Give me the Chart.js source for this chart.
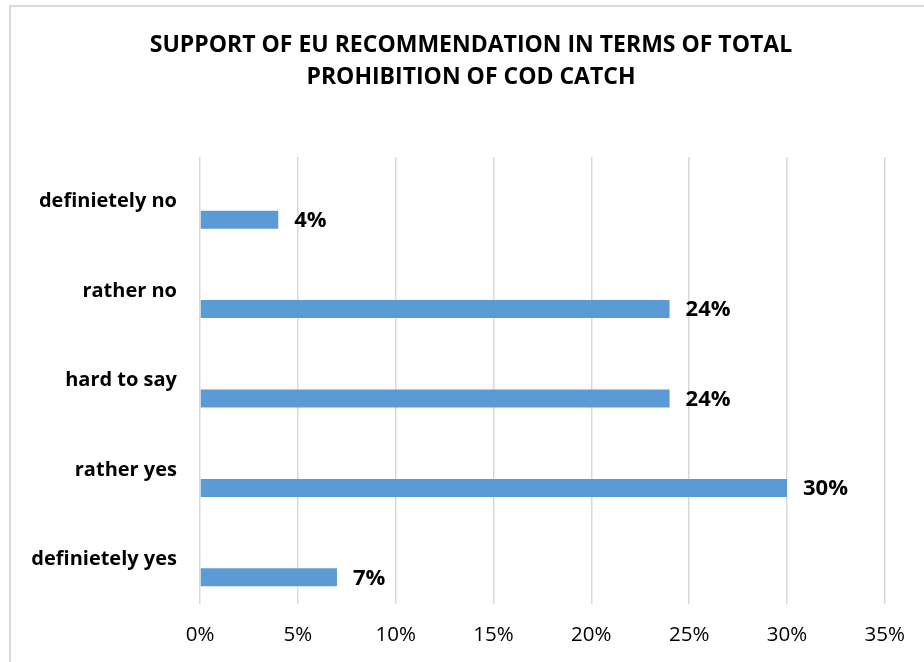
<!DOCTYPE html>
<html lang="en">

<head>
    <meta charset="UTF-8">
    <meta name="viewport" content="width=device-width, initial-scale=1.0">
    <title>Support of EU recommendation</title>
    <script src="https://cdn.jsdelivr.net/npm/chart.js"></script>
    <style>
        body {
            margin: 0;
            padding: 0;
            background-color: #fff;
            overflow: hidden;
        }

        .frame {
            position: absolute;
            left: 9px;
            top: 5px;
            width: 1000px;
            height: 1000px;
            border: 2px solid #d9d9d9;
        }

        .container {
            position: absolute;
            left: 0;
            top: 0;
            width: 924px;
            height: 662px;
        }
    </style>
</head>

<body>
    <div class="frame"></div>
    <div class="container">
        <canvas id="supportChart"></canvas>
    </div>

    <script>
        // Survey answers, top to bottom
        const answers = ['definietely no', 'rather no', 'hard to say', 'rather yes', 'definietely yes'];
        // Share of respondents (%)
        const shares = [4, 24, 24, 30, 7];
        // The two unused series that sit above the real bars in each group
        const emptySeries = [null, null, null, null, null];
        const xTicks = [0, 5, 10, 15, 20, 25, 30, 35];

        const titleLines = ['SUPPORT OF EU RECOMMENDATION IN TERMS OF TOTAL', 'PROHIBITION OF COD CATCH'];
        const fontFamily = '"Open Sans", Lato, sans-serif';

        // Two-line heading, centred on the framed box rather than the canvas
        const heading = {
            id: 'heading',
            afterDraw(chart) {
                const ctx = chart.ctx;
                ctx.save();
                ctx.font = 'bold 23px ' + fontFamily;
                ctx.fillStyle = '#000';
                ctx.textAlign = 'center';
                ctx.textBaseline = 'middle';
                titleLines.forEach((line, i) => {
                    ctx.fillText(line, 471, 45 + i * 32);
                });
                ctx.restore();
            }
        };

        // Prints the percentage to the right of each bar
        const valueLabels = {
            id: 'valueLabels',
            afterDatasetsDraw(chart) {
                const ctx = chart.ctx;
                const meta = chart.getDatasetMeta(2);
                ctx.save();
                ctx.font = 'bold 22px ' + fontFamily;
                ctx.fillStyle = '#000';
                ctx.textAlign = 'left';
                ctx.textBaseline = 'middle';
                meta.data.forEach((bar, i) => {
                    ctx.fillText(shares[i] + '%', bar.x + 16, bar.y + 1);
                });
                ctx.restore();
            }
        };

        const ctx = document.getElementById('supportChart').getContext('2d');
        const supportChart = new Chart(ctx, {
            type: 'bar',
            data: {
                labels: answers,
                datasets: [
                    { data: emptySeries },
                    { data: emptySeries },
                    {
                        label: 'share',
                        data: shares,
                        backgroundColor: '#5b9bd5'
                    }
                ]
            },
            options: {
                indexAxis: 'y',
                responsive: true,
                maintainAspectRatio: false,
                animation: false,
                categoryPercentage: 0.604,
                barPercentage: 1,
                layout: {
                    padding: { left: 0, right: 38, top: 157, bottom: 0 }
                },
                plugins: {
                    legend: { display: false },
                    tooltip: { enabled: false },
                    title: { display: false }
                },
                scales: {
                    x: {
                        min: 0,
                        max: 35,
                        afterBuildTicks(scale) {
                            scale.ticks = xTicks.map(v => ({ value: v }));
                        },
                        afterFit(scale) {
                            scale.height = 58;
                        },
                        grid: {
                            color: '#d9d9d9',
                            lineWidth: 1.5,
                            drawTicks: false
                        },
                        border: { display: false },
                        ticks: {
                            padding: 19,
                            color: '#000',
                            font: { family: fontFamily, size: 20.5 },
                            callback: v => v + '%'
                        }
                    },
                    y: {
                        afterFit(scale) {
                            scale.width = 200;
                        },
                        grid: { display: false, drawTicks: false },
                        border: { display: false },
                        ticks: {
                            padding: 23,
                            color: '#000',
                            font: { family: fontFamily, size: 20, weight: 'bold' }
                        }
                    }
                }
            },
            plugins: [valueLabels, heading]
        });
    </script>
</body>

</html>
